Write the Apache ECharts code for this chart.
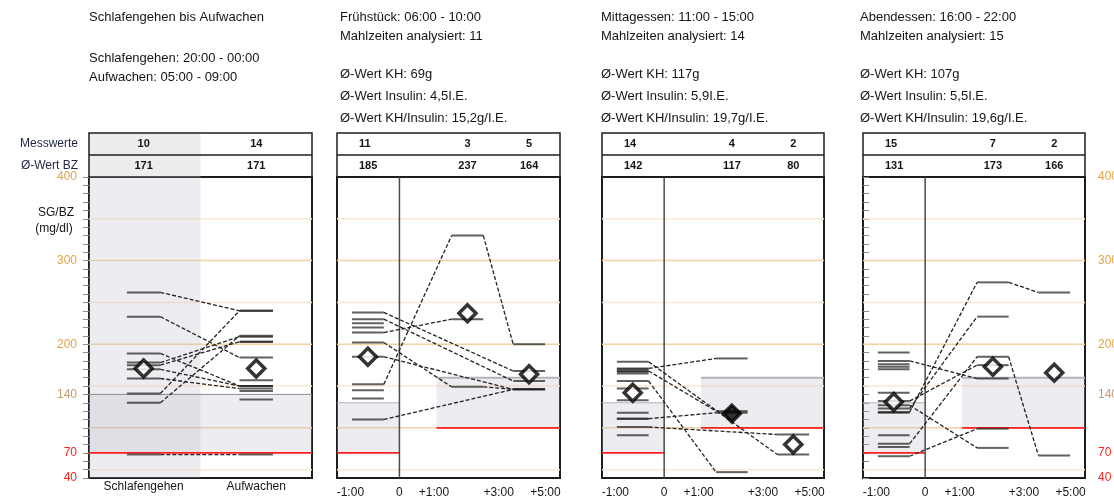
<!DOCTYPE html>
<html><head><meta charset="utf-8">
<script src="https://cdn.jsdelivr.net/npm/echarts@6/dist/echarts.min.js"></script>
<style>html,body{margin:0;padding:0;background:#fff}#c{width:1114px;height:501px}</style>
</head><body><div id="c"></div>
<script>
// ================= DATA =================
const sleepCategories = ['Schlafengehen', 'Aufwachen'];
const sleepCounts = [10, 14];
const sleepMeans = [171, 171];
// [Schlafengehen, Aufwachen] pairs
const sleepPairs = [[262,240],[233,184],[189,150],[178,209],[175,203],[170,150],[159,147],[141,240],[130,210],[68,68]];
const sleepExtraWake = [203,157,144,134];

const timeTickLabels = ['-1:00','0','+1:00','+3:00','+5:00'];

const fruehCounts = [11,3,5];
const fruehMeans = [185,237,164];
// [pre, +1..3h, +3..5h]
const fruehMeals = [[152,330,200],[238,null,168],[230,null,156],[214,230,null],[202,149,146],[185,null,146],[110,null,146]];
const fruehExtraPre = [225,220,145,135];

const mittagCounts = [14,4,2];
const mittagMeans = [142,117,80];
const mittagMeals = [[171,183,null],[179,null,68],[168,120,null],[156,47,null],[111,118,null],[101,null,92]];
const mittagExtraPre = [170,167,147,133,118,111,91,165];

const abendCounts = [15,7,2];
const abendMeans = [131,173,166];
const abendMeals = [[119,274,262],[123,233,null],[81,185,67],[180,159,null],[127,76,null],[66,99,null],[132,175,null]];
const abendExtraPre = [190,176,173,170,142,118,91,77];

const yLabelValues = [40,70,140,200,300,400];
const gridValues = [50,100,150,200,250,300,350];
const sleepTarget = [70,140];
const preTarget = [70,130];
const postTarget = [100,160];

const headerSleep = ['Schlafengehen bis Aufwachen','Schlafengehen: 20:00 - 00:00','Aufwachen: 05:00 - 09:00'];
const headerFrueh = ['Frühstück: 06:00 - 10:00','Mahlzeiten analysiert: 11','Ø-Wert KH: 69g','Ø-Wert Insulin: 4,5I.E.','Ø-Wert KH/Insulin: 15,2g/I.E.'];
const headerMittag = ['Mittagessen: 11:00 - 15:00','Mahlzeiten analysiert: 14','Ø-Wert KH: 117g','Ø-Wert Insulin: 5,9I.E.','Ø-Wert KH/Insulin: 19,7g/I.E.'];
const headerAbend = ['Abendessen: 16:00 - 22:00','Mahlzeiten analysiert: 15','Ø-Wert KH: 107g','Ø-Wert Insulin: 5,5I.E.','Ø-Wert KH/Insulin: 19,6g/I.E.'];
const rowLabels = ['Messwerte','Ø-Wert BZ'];

// ================= LAYOUT =================
const FONT = '"Liberation Sans", Arial, sans-serif';
const GRIDS = [
  {left:89, top:177, width:223, height:301},
  {left:337, top:177, width:223, height:301},
  {left:602, top:177, width:222, height:301},
  {left:863, top:177, width:222, height:301}
];
const SLOTS_SLEEP = [[17,32],[67.5,82.5]];
const SLOTS_MEAL = [[6.7,21],[51.4,65.6],[79,93.3]];
const ZERO_X = 28, POST_X = 44.6;
const TIME_TICK_POS = [6,28,43.5,72.5,93.5];
const SLEEP_TICK_POS = [24.5,75];
const center = s => (s[0]+s[1])/2;

const GRAY = 'rgba(185,185,198,0.25)';
const RED = '#ff1f1f';

function shapesSeries(gi, specs){
  return {
    type:'custom', xAxisIndex:gi, yAxisIndex:gi, silent:true, z:1,
    data: specs.map(()=>[0,40]),
    renderItem(params, api){
      const s = specs[params.dataIndex];
      if (s.kind === 'rect'){
        const a = api.coord([s.x0, s.v1]), b = api.coord([s.x1, s.v0]);
        return {type:'rect', shape:{x:a[0], y:a[1], width:b[0]-a[0], height:b[1]-a[1]}, style:{fill:s.fill}};
      }
      if (s.kind === 'h'){
        const a = api.coord([s.x0, s.v]), b = api.coord([s.x1, s.v]);
        return {type:'line', shape:{x1:a[0],y1:a[1],x2:b[0],y2:b[1]}, style:{stroke:s.color, lineWidth:s.w}};
      }
      const a = api.coord([s.x, s.v0]), b = api.coord([s.x, s.v1]);
      return {type:'line', shape:{x1:a[0],y1:a[1],x2:b[0],y2:b[1]}, style:{stroke:s.color, lineWidth:s.w}};
    }
  };
}
function gridLineSpecs(){
  return gridValues.map(v => ({kind:'h', x0:0, x1:100, v, color: (v%100===0)?'#f4d2a4':'#fbe8d2', w:1.5}));
}
function segSeries(gi, slots, items){
  return {
    type:'custom', xAxisIndex:gi, yAxisIndex:gi, silent:true, z:4,
    data: items,
    renderItem(params, api){
      const s = api.value(0), v = api.value(1);
      const a = api.coord([slots[s][0], v]), b = api.coord([slots[s][1], v]);
      return {type:'line', shape:{x1:a[0],y1:a[1],x2:b[0],y2:b[1]}, style:{stroke:'rgba(30,30,30,0.7)', lineWidth:2}};
    }
  };
}
function linkSeries(gi, links){
  return {
    type:'custom', xAxisIndex:gi, yAxisIndex:gi, silent:true, z:3,
    dimensions:['x0','v0','x1','v1'], encode:{x:[0,2], y:[1,3]},
    data: links,
    renderItem(params, api){
      const a = api.coord([api.value(0), api.value(1)]), b = api.coord([api.value(2), api.value(3)]);
      return {type:'line', shape:{x1:a[0],y1:a[1],x2:b[0],y2:b[1]}, style:{stroke:'#222', lineWidth:1.3, lineDash:[4,2]}};
    }
  };
}
function diamondSeries(gi, pts, filled){
  return {
    type:'scatter', xAxisIndex:gi, yAxisIndex:gi, silent:true, z:6,
    symbol:'diamond', symbolSize:[17,17],
    data: pts.map((p,i)=>({value:p, itemStyle:{color: filled[i]?'#000':'#fff', borderColor:'#000', borderWidth:3.5}}))
  };
}
function mealBuild(gi, meals, extraPre, means, filled){
  const segs = [], links = [];
  meals.forEach(m => {
    const pts = [];
    m.forEach((v,i) => { if (v != null){ pts.push([i,v]); segs.push([i,v]); } });
    for (let k=0;k<pts.length-1;k++){
      links.push([SLOTS_MEAL[pts[k][0]][1], pts[k][1], SLOTS_MEAL[pts[k+1][0]][0], pts[k+1][1]]);
    }
  });
  extraPre.forEach(v => segs.push([0,v]));
  const specs = gridLineSpecs().concat([
    {kind:'rect', x0:0, x1:ZERO_X, v0:preTarget[0], v1:preTarget[1], fill:GRAY},
    {kind:'rect', x0:POST_X, x1:100, v0:postTarget[0], v1:postTarget[1], fill:GRAY},
    {kind:'h', x0:0, x1:ZERO_X, v:preTarget[1], color:'#b4b4b8', w:1},
    {kind:'h', x0:0, x1:ZERO_X, v:preTarget[0], color:RED, w:1.6},
    {kind:'h', x0:POST_X, x1:100, v:postTarget[1], color:'#b4b4b8', w:2},
    {kind:'h', x0:POST_X, x1:100, v:postTarget[0], color:RED, w:1.6},
    {kind:'v', x:ZERO_X, v0:40, v1:400, color:'#4a4a4a', w:1.5}
  ]);
  return [
    shapesSeries(gi, specs),
    linkSeries(gi, links),
    segSeries(gi, SLOTS_MEAL, segs),
    diamondSeries(gi, means.map((m,i)=>[center(SLOTS_MEAL[i]), m]), filled)
  ];
}
function sleepBuild(){
  const segs = [], links = [];
  sleepPairs.forEach(p => {
    segs.push([0,p[0]]); segs.push([1,p[1]]);
    links.push([SLOTS_SLEEP[0][1], p[0], SLOTS_SLEEP[1][0], p[1]]);
  });
  sleepExtraWake.forEach(v => segs.push([1,v]));
  const specs = gridLineSpecs().concat([
    {kind:'rect', x0:0, x1:50, v0:40, v1:400, fill:GRAY},
    {kind:'rect', x0:0, x1:100, v0:sleepTarget[0], v1:sleepTarget[1], fill:GRAY},
    {kind:'h', x0:0, x1:100, v:sleepTarget[1], color:'#8c8c90', w:1},
    {kind:'h', x0:0, x1:100, v:sleepTarget[0], color:RED, w:1.6}
  ]);
  return [
    shapesSeries(0, specs),
    linkSeries(0, links),
    segSeries(0, SLOTS_SLEEP, segs),
    diamondSeries(0, sleepMeans.map((m,i)=>[center(SLOTS_SLEEP[i]), m]), [false,false])
  ];
}

const labelClass = v => v>=200 ? 'o' : (v===140 ? 'b' : 'r');
function yAxisCfg(i){
  const base = {gridIndex:i, type:'value', min:40, max:400, interval:10, splitLine:{show:false}, axisLine:{show:false}};
  if (i===0 || i===3){
    return Object.assign(base, {
      position: i===0 ? 'left' : 'right',
      axisTick:{show:true, length:6, lineStyle:{color:'#8c8c8c'}},
      axisLabel:{margin: i===0 ? 12 : 13, fontFamily:FONT, fontSize:12,
        formatter: v => yLabelValues.includes(v) ? '{' + labelClass(v) + '|' + v + '}' : '',
        rich:{o:{color:'#e3a447', fontFamily:FONT, fontSize:12}, b:{color:'#c09a70', fontFamily:FONT, fontSize:12}, r:{color:'#ff2020', fontFamily:FONT, fontSize:12}}}
    });
  }
  return Object.assign(base, {axisTick:{show:false}, axisLabel:{show:false}});
}
function xAxisCfg(i){
  const pos = i===0 ? SLEEP_TICK_POS : TIME_TICK_POS;
  const labels = i===0 ? sleepCategories : timeTickLabels;
  return {gridIndex:i, type:'value', min:0, max:100, interval:0.5,
    axisLine:{show:false}, axisTick:{show:false}, splitLine:{show:false},
    axisLabel:{margin: i===0 ? 3 : 9, fontFamily:FONT, fontSize:12, color:'#161616', showMinLabel:true, showMaxLabel:true,
      formatter: v => { const k = pos.findIndex(p => Math.abs(p - v) < 0.01); return k >= 0 ? labels[k] : ''; }}
  };
}

// ---- graphics: headers + tables ----
const graphics = [];
function txt(x, y, s, opt){
  graphics.push({type:'text', x, y, silent:true, style:Object.assign({text:s, fill:'#151515', font:'13px ' + FONT, textVerticalAlign:'middle', textAlign:'left'}, opt||{})});
}
const headerX = [89, 340, 601, 860];
const headerY5 = [17, 36, 74, 96, 118];
headerSleep.forEach((s,k) => txt(headerX[0], [17,58,77][k], s));
[headerFrueh, headerMittag, headerAbend].forEach((h,p) => h.forEach((s,k) => txt(headerX[p+1], headerY5[k], s)));

const TAB_TOP = 133, TAB_MID = 155, TAB_BOT = 177;
const pctX = (g, pct) => GRIDS[g].left + GRIDS[g].width * pct / 100;
graphics.push({type:'rect', silent:true, shape:{x:GRIDS[0].left, y:TAB_TOP, width:GRIDS[0].width/2, height:TAB_BOT-TAB_TOP}, style:{fill:'#ececef'}});
GRIDS.forEach((g,i) => {
  graphics.push({type:'rect', silent:true, shape:{x:g.left, y:TAB_TOP, width:g.width, height:TAB_BOT-TAB_TOP}, style:{fill:null, stroke:'#1e1e1e', lineWidth:1.5}});
  graphics.push({type:'line', silent:true, shape:{x1:g.left, y1:TAB_MID, x2:g.left+g.width, y2:TAB_MID}, style:{stroke:'#1e1e1e', lineWidth:1.5}});
});
txt(78, 144, rowLabels[0], {textAlign:'right', font:'12px ' + FONT, fill:'#1d2540'});
txt(78, 166, rowLabels[1], {textAlign:'right', font:'12px ' + FONT, fill:'#1d2540'});
const numFont = 'bold 11px ' + FONT;
sleepCounts.forEach((c,i) => { txt(pctX(0, center(SLOTS_SLEEP[i])), 144, String(c), {textAlign:'center', font:numFont}); });
sleepMeans.forEach((c,i) => { txt(pctX(0, center(SLOTS_SLEEP[i])), 166, String(c), {textAlign:'center', font:numFont}); });
[[fruehCounts, fruehMeans],[mittagCounts, mittagMeans],[abendCounts, abendMeans]].forEach((pair,p) => {
  const g = p+1;
  pair.forEach((arr,row) => {
    const y = row===0 ? 144 : 166;
    arr.forEach((v,i) => {
      if (i===0) txt(GRIDS[g].left + 22, y, String(v), {textAlign:'left', font:numFont});
      else txt(pctX(g, center(SLOTS_MEAL[i])), y, String(v), {textAlign:'center', font:numFont});
    });
  });
});
txt(56, 213, 'SG/BZ', {textAlign:'center', font:'12px ' + FONT});
txt(54, 229, '(mg/dl)', {textAlign:'center', font:'12px ' + FONT});

const series = [].concat(
  sleepBuild(),
  mealBuild(1, fruehMeals, fruehExtraPre, fruehMeans, [false,false,false]),
  mealBuild(2, mittagMeals, mittagExtraPre, mittagMeans, [false,true,false]),
  mealBuild(3, abendMeals, abendExtraPre, abendMeans, [false,false,false])
);

const chart = echarts.init(document.getElementById('c'), null, {renderer:'canvas'});
chart.setOption({
  animation:false,
  backgroundColor:'#fff',
  grid: GRIDS.map(g => Object.assign({show:true, borderColor:'#1e1e1e', borderWidth:2, backgroundColor:'transparent', containLabel:false, outerBoundsMode:'none'}, g)),
  xAxis: GRIDS.map((g,i) => xAxisCfg(i)),
  yAxis: GRIDS.map((g,i) => yAxisCfg(i)),
  series,
  graphic: graphics
});
</script>
</body></html>
